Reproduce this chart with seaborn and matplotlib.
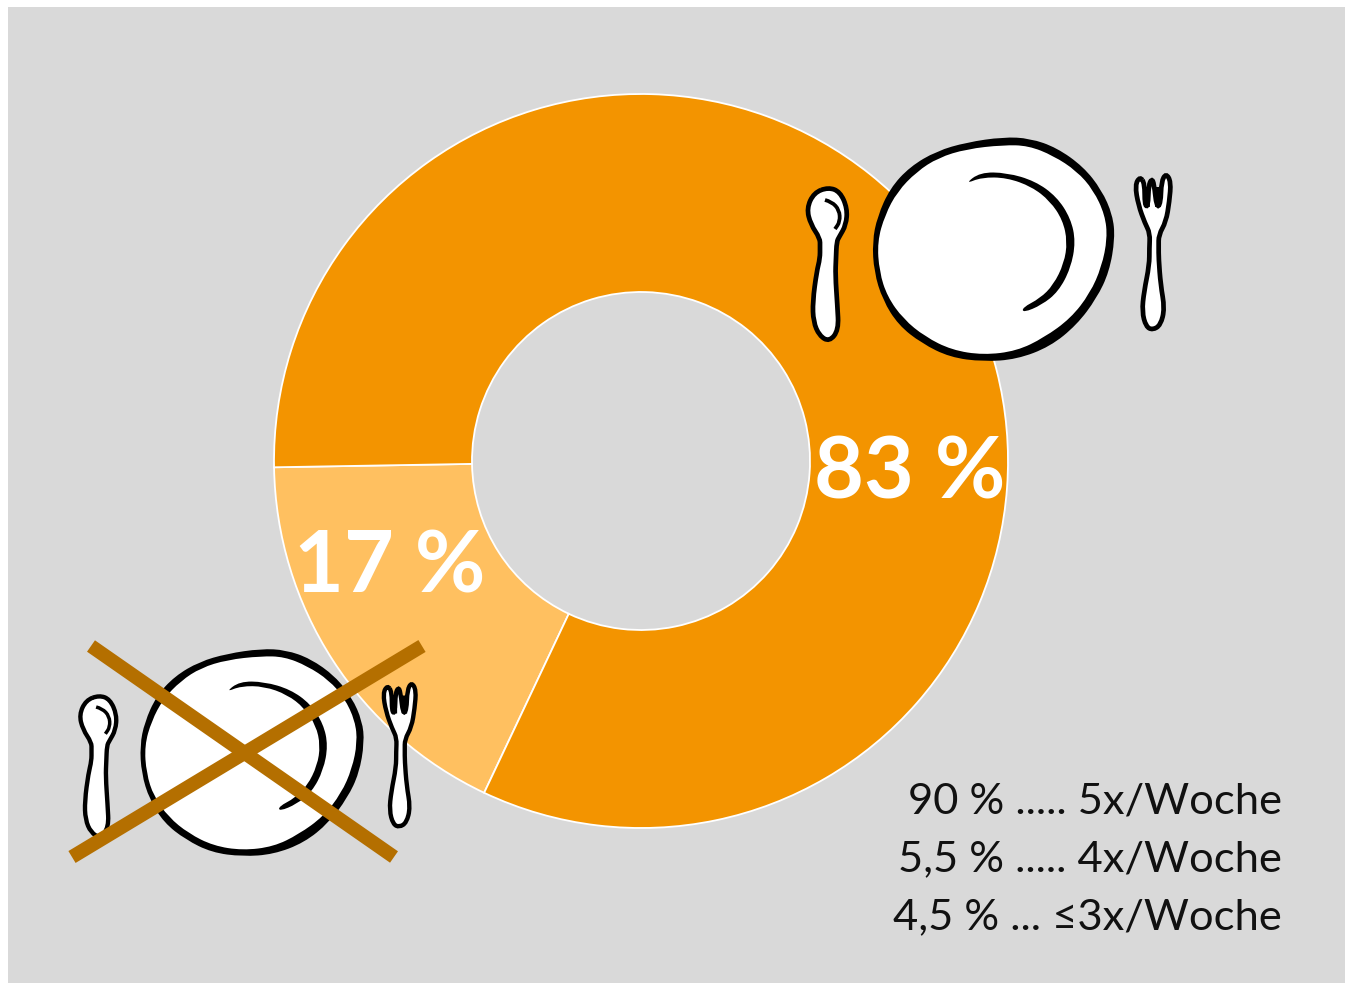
import matplotlib
matplotlib.use('Agg')
import matplotlib.pyplot as plt
import seaborn as sns
from matplotlib.patches import PathPatch, Rectangle
from matplotlib.path import Path

# Values and labels
shares = [17.7, 82.3]
share_labels = ['17 %', '83 %']
share_colors = ['#FFC060', '#F39400']
freq_lines = ['90 % ..... 5x/Woche', '5,5 % ..... 4x/Woche', '4,5 % ... ≤3x/Woche']

# Icon outlines, traced in pixels of a 3x crop whose corner is (790, 125)
plate_outer = [(640,36),(720,40),(800,68),(880,125),(935,195),(968,270),(975,340),(958,440),(920,520),(860,600),(780,665),(680,703),(580,710),(480,697),(395,655),(325,600),(278,525),(252,440),(247,350),(262,275),(300,190),(360,125),(440,78),(530,52)]
plate_inner = [(640,60),(715,62),(790,92),(860,138),(910,195),(945,270),(952,340),(935,425),(900,505),(842,580),(762,638),(680,678),(580,690),(485,675),(405,635),(340,582),(292,515),(268,440),(262,350),(285,270),(322,200),(380,140),(445,98),(530,72)]
plate_rim = [(525,177),(570,142),(650,143),(735,168),(800,215),(842,280),(857,350),(842,430),(805,500),(755,540),(700,563),(697,548),(750,520),(790,480),(822,415),(832,350),(818,285),(780,228),(725,185),(650,158),(575,157)]
spoon = [(115,187),(150,200),(172,250),(168,300),(148,335),(140,350),(138,400),(136,450),(142,540),(146,615),(118,650),(88,632),(70,590),(68,530),(80,440),(90,400),(90,365),(90,340),(62,298),(50,250),(72,203)]
spoon_arc = [(105,225),(125,230),(148,255),(150,290),(135,312)]
fork = [(1050,155),(1035,180),(1045,240),(1065,295),(1080,325),(1078,370),(1078,420),(1062,500),(1056,560),(1068,605),(1088,615),(1112,600),(1124,550),(1112,480),(1106,400),(1106,365),(1106,330),(1128,290),(1138,230),(1143,170),(1128,145),(1114,170),(1112,235),(1100,248),(1092,175),(1085,162),(1076,180),(1074,245),(1064,240),(1064,175)]
fork_notches = [[(1071,190),(1071,245)], [(1103,185),(1103,245)]]


def to_px(pts, scale=1.0, dx=0.0, dy=0.0):
    out = []
    for x, y in pts:
        out.append(((790 + x / 3) * scale + dx, (125 + y / 3) * scale + dy))
    return out


def smooth(pts, closed=True):
    # quadratic curves through the midpoints
    if closed:
        start = ((pts[-1][0] + pts[0][0]) / 2, (pts[-1][1] + pts[0][1]) / 2)
        verts, codes = [start], [Path.MOVETO]
        for i, p in enumerate(pts):
            q = pts[(i + 1) % len(pts)]
            verts += [p, ((p[0] + q[0]) / 2, (p[1] + q[1]) / 2)]
            codes += [Path.CURVE3, Path.CURVE3]
        return Path(verts, codes)
    verts, codes = [pts[0]], [Path.MOVETO]
    for p, q in zip(pts[1:-1], pts[2:]):
        verts += [p, ((p[0] + q[0]) / 2, (p[1] + q[1]) / 2)]
        codes += [Path.CURVE3, Path.CURVE3]
    verts.append(pts[-1])
    codes.append(Path.LINETO)
    return Path(verts, codes)


def draw_place(ax, scale=1.0, dx=0.0, dy=0.0):
    lw = 3.4 * scale
    ax.add_patch(PathPatch(smooth(to_px(plate_outer, scale, dx, dy)), fc='black', ec='none', zorder=3))
    ax.add_patch(PathPatch(smooth(to_px(plate_inner, scale, dx, dy)), fc='white', ec='none', zorder=3))
    ax.add_patch(PathPatch(smooth(to_px(plate_rim, scale, dx, dy)), fc='black', ec='none', zorder=3))
    ax.add_patch(PathPatch(smooth(to_px(spoon, scale, dx, dy)), fc='white', ec='black', lw=lw, zorder=3))
    ax.add_patch(PathPatch(smooth(to_px(spoon_arc, scale, dx, dy), closed=False), fc='none', ec='black', lw=lw * 0.8, zorder=3))
    ax.add_patch(PathPatch(smooth(to_px(fork, scale, dx, dy)), fc='white', ec='black', lw=lw, zorder=3))
    for notch in fork_notches:
        ax.add_patch(PathPatch(Path(to_px(notch, scale, dx, dy)), fc='none', ec='black', lw=lw * 1.2, zorder=3))


sns.set_theme(style='white')
plt.rcParams['font.family'] = ['Lato', 'DejaVu Sans']

fig = plt.figure(figsize=(13.45, 9.83), dpi=100)
ax = fig.add_axes([0, 0, 1, 1])

ax.pie(shares, colors=sns.color_palette(share_colors), startangle=115.3, radius=367, center=(641, 461),
       frame=True, wedgeprops={'width': 198, 'edgecolor': 'white', 'linewidth': 1.3, 'zorder': 2})
ax.set_xlim(0, 1345)
ax.set_ylim(983, 0)
ax.set_aspect('auto')
ax.set_axis_off()
ax.add_patch(Rectangle((8, 7), 1337, 976, fc='#D9D9D9', ec='none', zorder=0))

ax.text(390, 568, share_labels[0], color='white', fontsize=62, fontweight='bold', ha='center', va='center', zorder=4)
ax.text(910, 474, share_labels[1], color='white', fontsize=62, fontweight='bold', ha='center', va='center', zorder=4)

draw_place(ax)
draw_place(ax, scale=0.925, dx=-667, dy=522)

# crossed out
cross = '#B46F00'
ax.plot([91, 394], [646, 857], color=cross, lw=10, solid_capstyle='butt', zorder=5)
ax.plot([422, 72], [646, 857], color=cross, lw=10, solid_capstyle='butt', zorder=5)

for y, line in zip([801, 859, 917], freq_lines):
    ax.text(1282, y, line, color='#111111', fontsize=31.3, ha='right', va='center', zorder=4)

fig.savefig('out.png', dpi=100, facecolor='white')
